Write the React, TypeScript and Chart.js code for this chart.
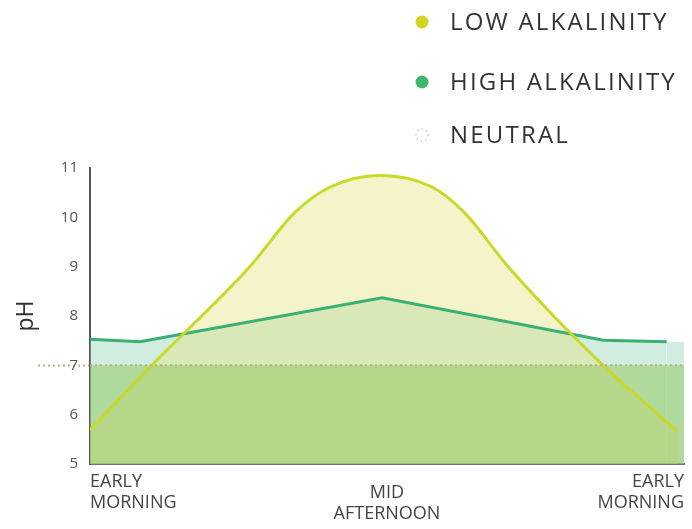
import React, { useEffect, useRef } from "react";
import { Chart, registerables } from "chart.js";

Chart.register(...registerables);

// ---- data ----
const seriesNames = ["LOW ALKALINITY", "HIGH ALKALINITY", "NEUTRAL"];

const lowX = [0, 10.4, 26.9, 34.5, 40.5, 48.8, 57.5, 63, 70.4, 86.4, 99];
const lowPH = [5.69, 7, 9, 10.1, 10.62, 10.85, 10.62, 10.1, 9, 7, 5.65];

const highX = [0, 8.4, 49.2, 86.4, 97.1, 100];
const highPH = [7.53, 7.48, 8.37, 7.51, 7.48, 7.48];

const neutralX = [0, 100];
const neutralPH = [7, 7];

const xTickValues = [0, 50, 100];
const xTickLabels = [
  ["EARLY", "MORNING", ""],
  ["MID", "AFTERNOON"],
  ["EARLY", "MORNING", ""],
];
const yTickValues = [5, 6, 7, 8, 9, 10, 11];
const yTitle = "pH";

const toPoints = (xs: number[], ys: number[]) => xs.map((x, i) => ({ x, y: ys[i] }));

const LOW_COLOR = "#c9d92a";
const LOW_DOT = "#d0d520";
const HIGH_COLOR = "#3bb073";
const HIGH_DOT = "#3cb96a";
const NEUTRAL_COLOR = "#b7b27e";

export default function App() {
  const ref = useRef<HTMLCanvasElement>(null);

  useEffect(() => {
    document.body.style.margin = "0";
    const legendPlugin = {
      id: "customLegend",
      afterDraw(chart: any) {
        const ctx = chart.ctx as any;
        ctx.save();
        const rows = [22, 82, 135];
        const cx = 422;
        chart.data.datasets.forEach((ds: any, i: number) => {
          const y = rows[i];
          if (i === 2) {
            ctx.strokeStyle = "#d6cfa3";
            ctx.lineWidth = 1.5;
            ctx.setLineDash([1.5, 3]);
            ctx.beginPath();
            ctx.arc(cx, y, 6, 0, Math.PI * 2);
            ctx.stroke();
            ctx.setLineDash([]);
          } else {
            ctx.fillStyle = ds.legendDot;
            ctx.beginPath();
            ctx.arc(cx, y, 6.5, 0, Math.PI * 2);
            ctx.fill();
          }
          ctx.fillStyle = "#333";
          ctx.font = '24px "Open Sans"';
          ctx.letterSpacing = "2.2px";
          ctx.textBaseline = "middle";
          ctx.textAlign = "left";
          ctx.fillText(ds.label, 450, y + 1);
        });
        ctx.restore();
      },
    };

    const chart = new Chart(ref.current as HTMLCanvasElement, {
      type: "line",
      data: {
        datasets: [
          {
            label: seriesNames[0],
            data: toPoints(lowX, lowPH),
            borderColor: LOW_COLOR,
            borderWidth: 3,
            backgroundColor: "rgba(230,225,120,0.4)",
            fill: "start",
            pointRadius: 0,
            cubicInterpolationMode: "monotone",
            order: 1,
            legendDot: LOW_DOT,
          } as any,
          {
            label: seriesNames[1],
            data: toPoints(highX, highPH),
            borderColor: HIGH_COLOR,
            borderWidth: 3,
            backgroundColor: "rgba(140,210,180,0.4)",
            fill: "start",
            pointRadius: 0,
            tension: 0,
            order: 2,
            legendDot: HIGH_DOT,
            segment: {
              borderColor: (c: any) => (c.p0DataIndex >= highX.length - 2 ? "rgba(0,0,0,0)" : HIGH_COLOR),
            },
          } as any,
          {
            label: seriesNames[2],
            data: toPoints(neutralX, neutralPH),
            borderColor: NEUTRAL_COLOR,
            borderWidth: 2,
            borderDash: [2, 3],
            backgroundColor: "rgba(150,200,100,0.55)",
            fill: "start",
            pointRadius: 0,
            order: 0,
          } as any,
        ],
      },
      options: {
        responsive: true,
        maintainAspectRatio: false,
        animation: false,
        layout: { padding: { top: 168, right: 8, bottom: 0, left: 0 } },
        plugins: {
          legend: { display: false },
          tooltip: { enabled: false },
          filler: { drawTime: "beforeDatasetsDraw" } as any,
        },
        scales: {
          x: {
            type: "linear",
            min: 0,
            max: 100,
            afterBuildTicks: (s: any) => {
              s.ticks = xTickValues.map((v) => ({ value: v }));
            },
            afterFit: (s: any) => {
              s.height = 65;
              s.paddingLeft = 0;
              s.paddingRight = 0;
            },
            ticks: {
              callback: (_v: any, i: number) => xTickLabels[i],
              align: "inner",
              crossAlign: "center",
              autoSkip: false,
              maxRotation: 0,
              padding: 18,
              color: "#444",
              font: { family: "Open Sans", size: 18, lineHeight: 1.17 },
            },
            grid: { drawOnChartArea: false, drawTicks: false },
            border: { display: true, color: "#747474", width: 2 },
          },
          y: {
            type: "linear",
            min: 5,
            max: 11,
            afterBuildTicks: (s: any) => {
              s.ticks = yTickValues.map((v) => ({ value: v }));
            },
            afterFit: (s: any) => {
              s.width = 90;
            },
            ticks: {
              padding: -40,
              color: "#555",
              font: { family: "Open Sans", size: 15 },
            },
            grid: {
              drawOnChartArea: false,
              drawTicks: true,
              tickLength: 52,
              tickColor: (c: any) => (c.tick && c.tick.value === 7 ? NEUTRAL_COLOR : "rgba(0,0,0,0)"),
              tickBorderDash: [2, 3],
              tickWidth: 2,
            } as any,
            border: { display: true, color: "#555", width: 2 },
            title: {
              display: true,
              text: yTitle,
              color: "#333",
              font: { family: "Open Sans", size: 23 },
              padding: { top: 13, bottom: 0 },
            },
          },
        },
      } as any,
      plugins: [legendPlugin],
    });
    return () => chart.destroy();
  }, []);

  return (
    <div style={{ width: 692, height: 529, position: "relative" }}>
      <canvas ref={ref} />
    </div>
  );
}
